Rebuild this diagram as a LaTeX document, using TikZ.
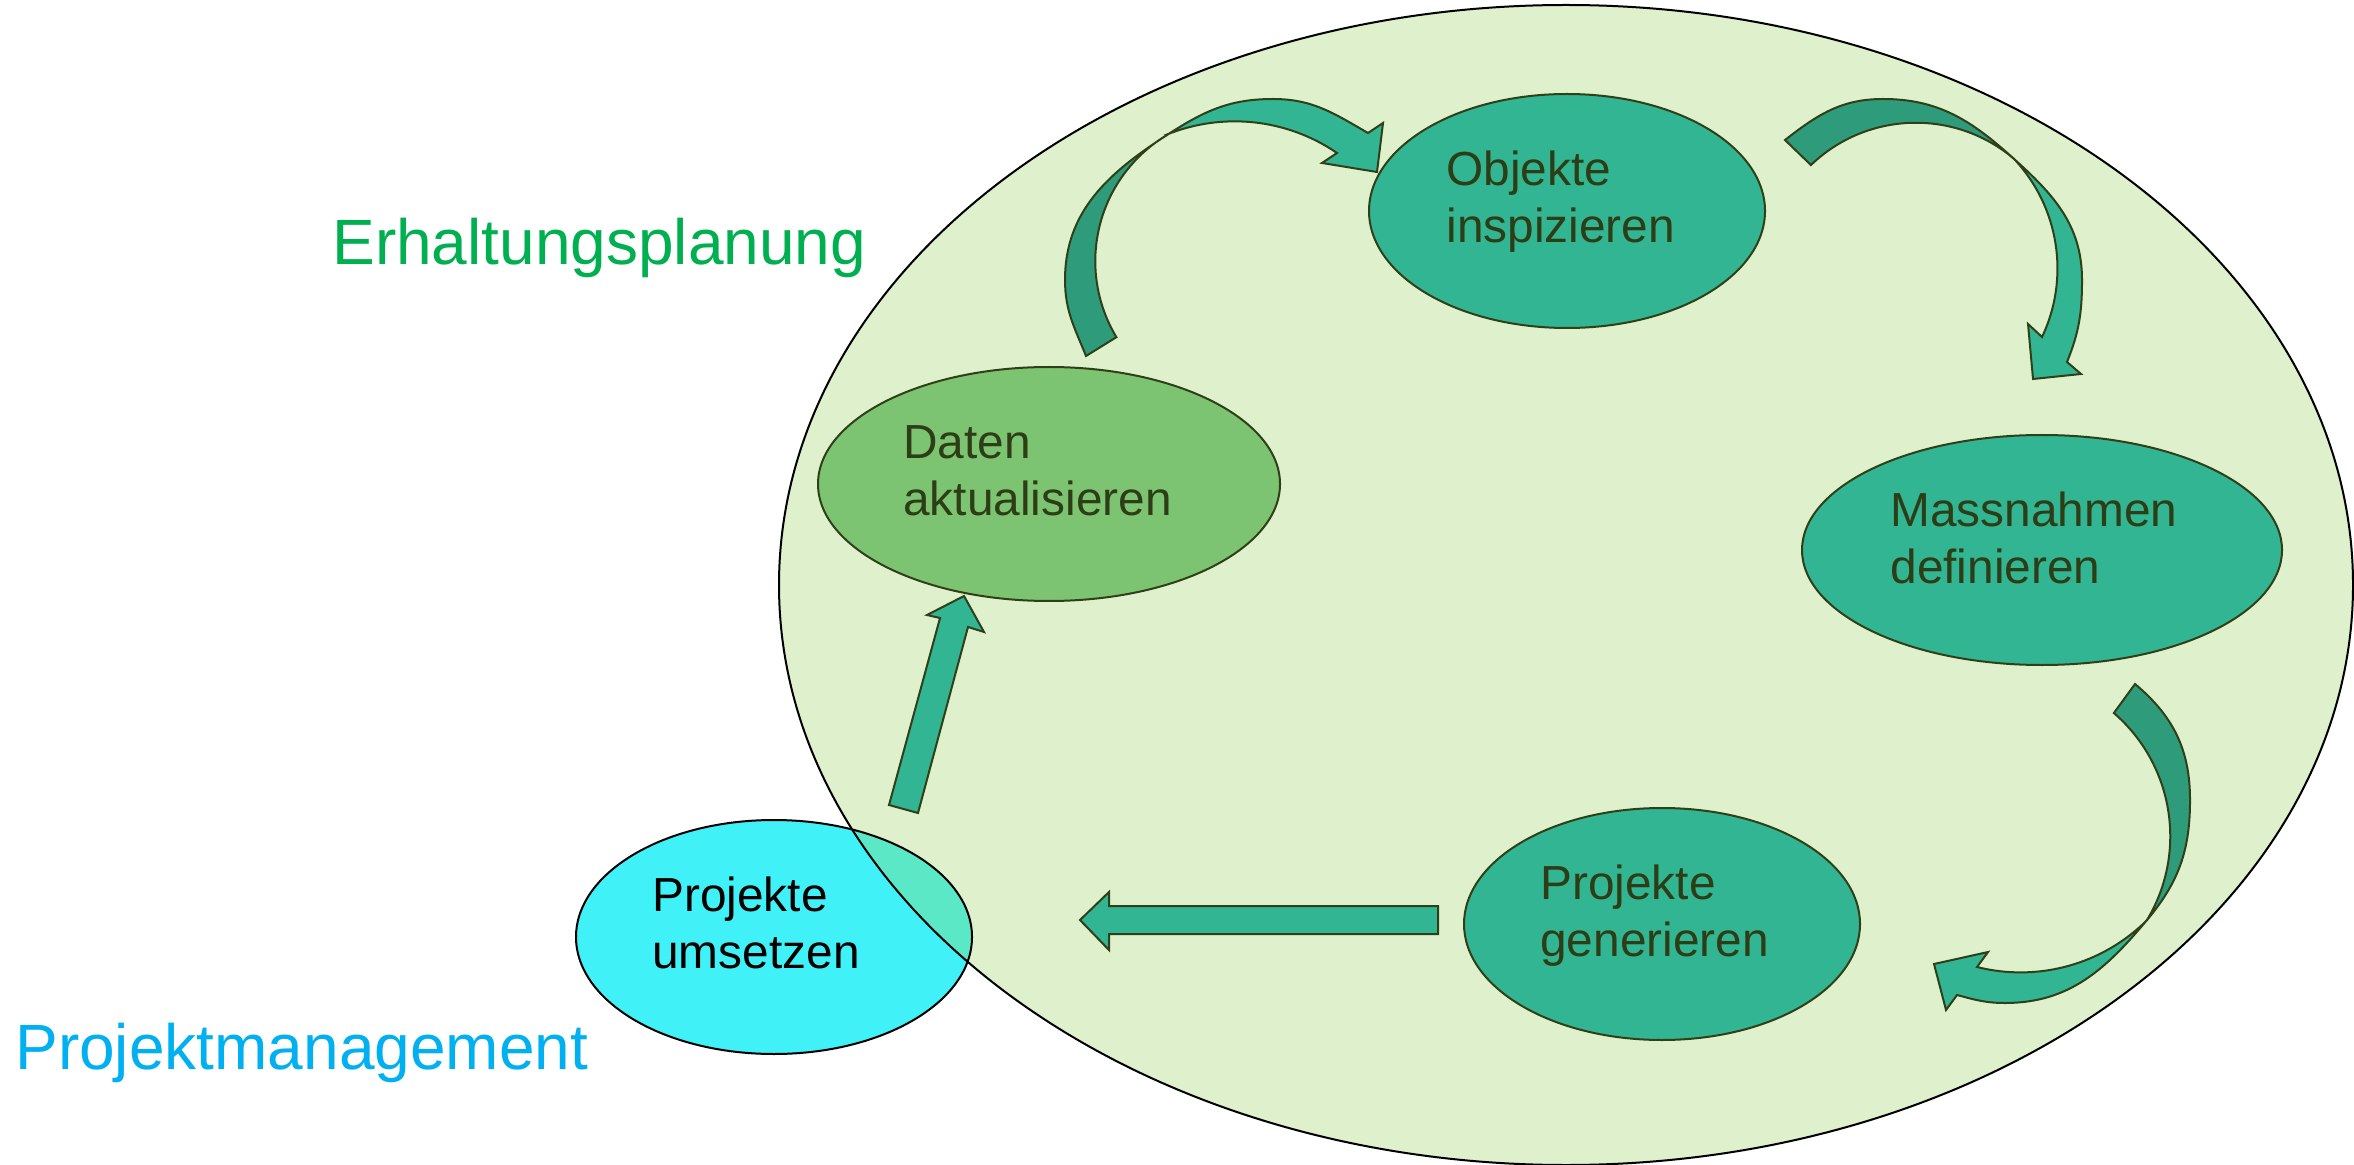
\documentclass[tikz,border=0pt]{standalone}
\usepackage{fontspec}
\setmainfont{Liberation Sans}
\usetikzlibrary{shapes.geometric}
\definecolor{bigfill}{RGB}{223,240,204}
\definecolor{tealA}{RGB}{49,181,147}
\definecolor{tealdark}{RGB}{46,156,123}
\definecolor{datfill}{RGB}{125,196,114}
\definecolor{cyanfill}{RGB}{64,242,248}
\definecolor{mintfill}{RGB}{91,232,198}
\definecolor{oliveline}{RGB}{47,64,25}
\definecolor{txtcol}{RGB}{45,61,22}
\definecolor{lblgreen}{RGB}{0,176,80}
\definecolor{lblblue}{RGB}{0,176,240}
\tikzset{
  ellnode/.style={ellipse, inner sep=0pt, draw=oliveline, line width=1pt},
  txtlbl/.style={anchor=base west, align=left, inner sep=0pt, text=txtcol,
    font=\fontsize{23.9pt}{28.5pt}\selectfont},
  biglbl/.style={anchor=base west, inner sep=0pt, font=\fontsize{32pt}{38pt}\selectfont},
  arrlight/.style={fill=tealA, draw=oliveline, line width=1pt, line join=miter},
  arrdark/.style={fill=tealdark, draw=oliveline, line width=1pt, line join=miter},
}
\begin{document}
\begin{tikzpicture}[x=0.5pt,y=-0.5pt]
\useasboundingbox (0,0) rectangle (2354,1165);
\fill[white] (0,0) rectangle (2354,1165);
% big ellipse
\node[ellipse, inner sep=0pt, fill=bigfill, minimum width=787pt, minimum height=580pt] (big) at (1566,585) {};
% Projekte umsetzen (partly overlapping)
\node[ellipse, inner sep=0pt, fill=cyanfill, minimum width=198pt, minimum height=117pt] (ums) at (774,937) {};
\begin{scope}
  \clip (ums.center) ellipse [x radius=198, y radius=117];
  \fill[mintfill] (big.center) ellipse [x radius=787, y radius=580];
\end{scope}
\draw[black, line width=1pt] (ums.center) ellipse [x radius=198, y radius=117];
\draw[black, line width=1pt] (big.center) ellipse [x radius=787, y radius=580];
% other ellipses
\node[ellnode, fill=tealA, minimum width=198pt, minimum height=117pt] (obj) at (1567,211) {};
\node[ellnode, fill=tealA, minimum width=240pt, minimum height=115pt] (mas) at (2042,550) {};
\node[ellnode, fill=tealA, minimum width=198pt, minimum height=116pt] (gen) at (1662,924) {};
\node[ellnode, fill=datfill, minimum width=231pt, minimum height=117pt] (dat) at (1049,484) {};
% texts
\node[txtlbl] (objT) at (1446,243) {Objekte\\inspizieren};
\node[txtlbl] (masT) at (1890,583) {Massnahmen\\definieren};
\node[txtlbl] (genT) at (1540,956) {Projekte\\generieren};
\node[txtlbl, text=black] (umsT) at (652,968) {Projekte\\umsetzen};
\node[txtlbl] (datT) at (903,516) {Daten\\aktualisieren};
\node[biglbl, text=lblgreen] (erh) at (332,265) {Erhaltungsplanung};
\node[biglbl, text=lblblue] (pm) at (15,1069) {Projektmanagement};
% curved arrow: Daten -> Objekte
\filldraw[arrdark] (1086,356) to[out=112,in=-90] (1065,280) to[out=90,in=-147] (1167,135)
  arc[start angle=239.2, end angle=148.9, radius=147] -- cycle;
\filldraw[arrlight] (1167,135) to[out=33,in=180] (1273,99) to[out=0,in=150] (1368,133)
  -- (1383,123) -- (1377,172) -- (1322,163) -- (1337,153)
  arc[start angle=304.4, end angle=247.8, radius=181] -- cycle;
% curved arrow: Objekte -> Massnahmen
\filldraw[arrdark] (1785,140) to[out=38,in=180] (1883,99) to[out=0,in=138] (2013,158)
  arc[start angle=309.9, end angle=226.1, radius=151.4] -- cycle;
\filldraw[arrlight] (2013,158) to[out=-42,in=90] (2082,280) to[out=-90,in=68] (2067,362)
  -- (2081,374) -- (2033,379) -- (2028,324) -- (2042,337)
  arc[start angle=25.4, end angle=-43.7, radius=159.8] -- cycle;
% curved arrow: Massnahmen -> Generieren
\filldraw[arrdark] (2135,684) to[out=-40,in=90] (2190,800) to[out=-90,in=50] (2147,920)
  arc[start angle=31, end angle=-49.2, radius=162.7] -- cycle;
\filldraw[arrlight] (2147,920) to[out=-130,in=0] (2005,1003) to[out=180,in=-15] (1957,995)
  -- (1946,1010) -- (1934,964) -- (1988,952) -- (1977,967)
  arc[start angle=104.1, end angle=45.1, radius=179] -- cycle;
% straight arrow: Generieren -> Umsetzen
\filldraw[arrlight] (1438,906) -- (1109,906) -- (1109,892) -- (1080,920) -- (1109,950) -- (1109,934) -- (1438,934) -- cycle;
% straight arrow: Umsetzen -> Daten
\filldraw[arrlight] (889,805) -- (940,618) -- (927,615) -- (964,596) -- (984,632) -- (968,627) -- (918,813) -- cycle;
\end{tikzpicture}
\end{document}
